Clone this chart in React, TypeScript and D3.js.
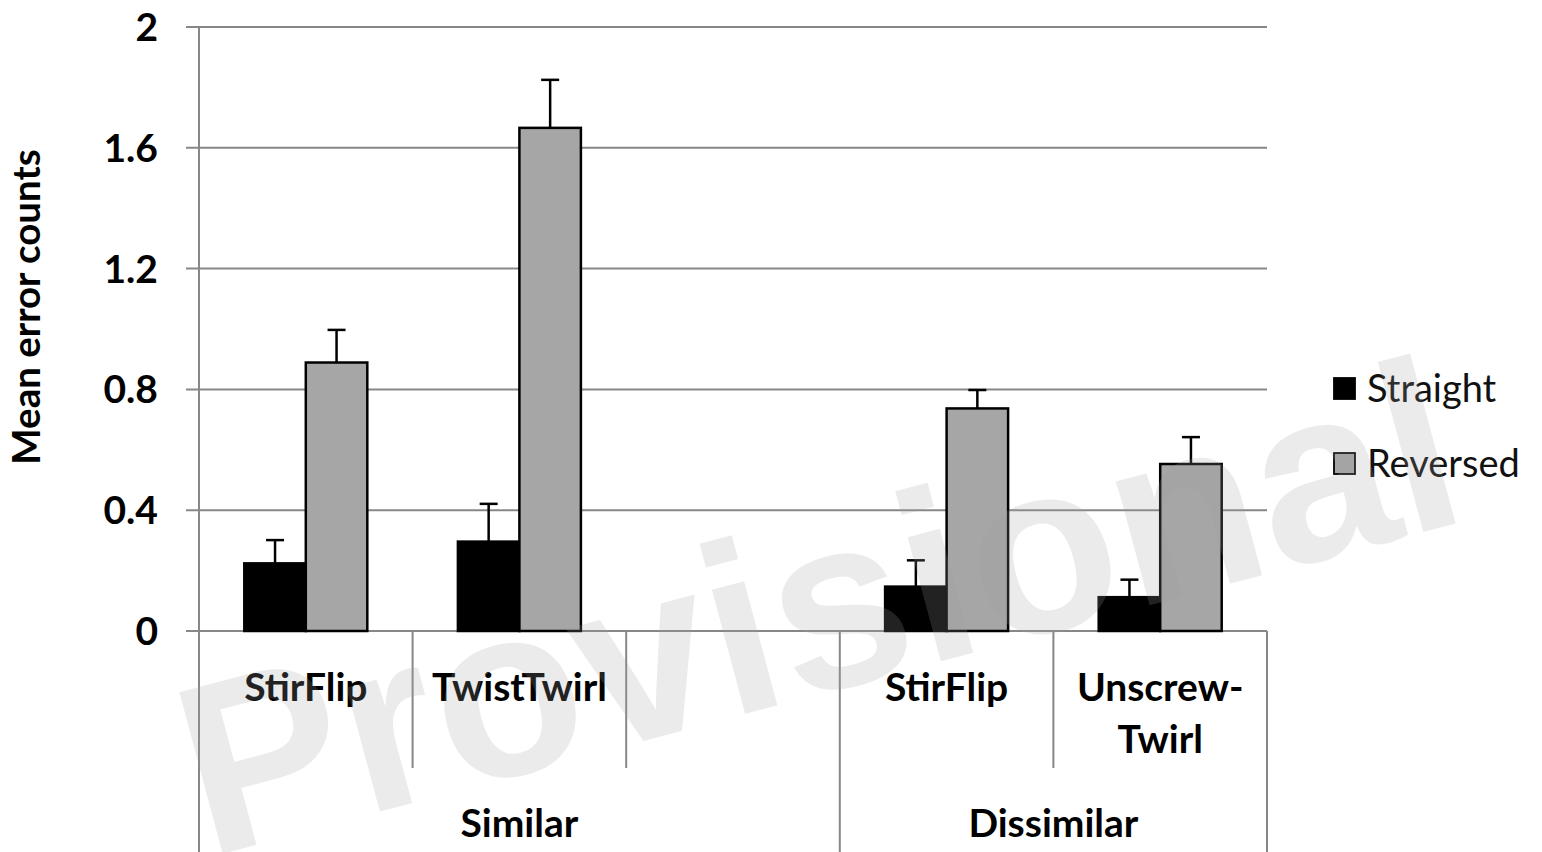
import React, { useEffect, useRef } from "react";
import * as d3 from "d3";

const categories = ["StirFlip", "TwistTwirl", "", "StirFlip", "Unscrew-Twirl"];
const groups = ["Similar", "Similar", "Similar", "Dissimilar", "Dissimilar"];
const seriesNames = ["Straight", "Reversed"];
const straight = [0.224, 0.296, null, 0.147, 0.112];
const reversed = [0.889, 1.666, null, 0.737, 0.553];
const straightErr = [0.077, 0.125, null, 0.087, 0.058];
const reversedErr = [0.108, 0.159, null, 0.061, 0.089];
const yTicks = [0, 0.4, 0.8, 1.2, 1.6, 2];
const yTickLabels = ["0", "0.4", "0.8", "1.2", "1.6", "2"];
const yTitle = "Mean error counts";
const watermark = "Provisional";

const W = 1542;
const H = 852;
const FONT = "Lato, 'Open Sans', sans-serif";

export default function App() {
  const ref = useRef<SVGSVGElement>(null);

  useEffect(() => {
    document.body.style.margin = "0";
    const svg = d3.select(ref.current);
    svg.selectAll("*").remove();

    const left = 199, right = 1267, top = 27, bottom = 631;
    const gridColor = "#878787";

    const y = d3.scaleLinear().domain([0, 2]).range([bottom, top]);
    const x0 = d3
      .scaleBand<number>()
      .domain(categories.map((_, i) => i))
      .range([left, right])
      .paddingInner(0)
      .paddingOuter(0);
    const x1 = d3
      .scaleBand<string>()
      .domain(seriesNames)
      .range([0, x0.bandwidth()])
      .paddingInner(0)
      .paddingOuter(0.7366);

    const g = svg.append("g");

    // gridlines
    g.selectAll("line.grid")
      .data(yTicks)
      .join("line")
      .attr("x1", left - 13)
      .attr("x2", right)
      .attr("y1", (d) => y(d))
      .attr("y2", (d) => y(d))
      .attr("stroke", gridColor)
      .attr("stroke-width", 2);

    // y axis line
    g.append("line")
      .attr("x1", left)
      .attr("x2", left)
      .attr("y1", top)
      .attr("y2", H)
      .attr("stroke", gridColor)
      .attr("stroke-width", 2);

    // category dividers
    const boundaries = d3.range(categories.length + 1);
    boundaries.forEach((i) => {
      if (i === 0) return;
      const xx = i < categories.length ? x0(i)! : right;
      const isGroupEdge =
        i === categories.length || groups[i] !== groups[i - 1];
      g.append("line")
        .attr("x1", xx)
        .attr("x2", xx)
        .attr("y1", bottom)
        .attr("y2", isGroupEdge ? H : 768)
        .attr("stroke", gridColor)
        .attr("stroke-width", 2);
    });

    // y tick labels
    g.selectAll("text.ytick")
      .data(yTicks)
      .join("text")
      .attr("x", 158)
      .attr("y", (d) => y(d))
      .attr("dy", "0.36em")
      .attr("text-anchor", "end")
      .attr("font-family", FONT)
      .attr("font-weight", "bold")
      .attr("font-size", 39)
      .attr("fill", "#000")
      .text((_, i) => yTickLabels[i]);

    // y title
    g.append("text")
      .attr("transform", `translate(40,307) rotate(-90)`)
      .attr("text-anchor", "middle")
      .attr("font-family", FONT)
      .attr("font-weight", "bold")
      .attr("font-size", 38.5)
      .text(yTitle);

    // bars
    const seriesVals = [straight, reversed];
    const seriesErrs = [straightErr, reversedErr];
    const fills = ["#000000", "#a6a6a6"];
    seriesNames.forEach((s, si) => {
      const vals = seriesVals[si];
      const errs = seriesErrs[si];
      vals.forEach((v, ci) => {
        if (v == null) return;
        const bx = x0(ci)! + x1(s)!;
        const bw = x1.bandwidth();
        g.append("rect")
          .attr("x", bx)
          .attr("y", y(v))
          .attr("width", bw)
          .attr("height", y(0) - y(v))
          .attr("fill", fills[si])
          .attr("stroke", "#000")
          .attr("stroke-width", 2.5);
        const e = errs[ci] as number;
        const cx = bx + bw / 2;
        g.append("line")
          .attr("x1", cx)
          .attr("x2", cx)
          .attr("y1", y(v))
          .attr("y2", y(v + e))
          .attr("stroke", "#000")
          .attr("stroke-width", 2.5);
        g.append("line")
          .attr("x1", cx - 9)
          .attr("x2", cx + 9)
          .attr("y1", y(v + e))
          .attr("y2", y(v + e))
          .attr("stroke", "#000")
          .attr("stroke-width", 2.5);
      });
    });

    // category labels
    categories.forEach((c, i) => {
      if (!c) return;
      const cx = x0(i)! + x0.bandwidth() / 2;
      const parts = c.includes("-") ? [c.split("-")[0] + "-", c.split("-")[1]] : [c];
      parts.forEach((p, pi) => {
        g.append("text")
          .attr("x", cx)
          .attr("y", 701 + pi * 52)
          .attr("text-anchor", "middle")
          .attr("font-family", FONT)
          .attr("font-weight", "bold")
          .attr("font-size", 39)
          .text(p);
      });
    });

    // group labels
    const groupNames = Array.from(new Set(groups));
    groupNames.forEach((gn) => {
      const idx = groups.map((gg, i) => (gg === gn ? i : -1)).filter((i) => i >= 0);
      const x1g = x0(idx[0])!;
      const x2g = x0(idx[idx.length - 1])! + x0.bandwidth();
      g.append("text")
        .attr("x", (x1g + x2g) / 2)
        .attr("y", 837)
        .attr("text-anchor", "middle")
        .attr("font-family", FONT)
        .attr("font-weight", "bold")
        .attr("font-size", 39)
        .text(gn);
    });

    // legend
    seriesNames.forEach((s, si) => {
      const ly = 389 + si * 75;
      g.append("rect")
        .attr("x", 1334)
        .attr("y", ly - 11)
        .attr("width", 21)
        .attr("height", 21)
        .attr("fill", fills[si])
        .attr("stroke", "#000")
        .attr("stroke-width", 1.8);
      g.append("text")
        .attr("x", 1367)
        .attr("y", ly + 13)
        .attr("font-family", FONT)
        .attr("font-size", 38)
        .attr("fill", "#111")
        .text(s);
    });

    // watermark
    svg
      .append("text")
      .attr("transform", "translate(207,858) rotate(-15)")
      .attr("font-family", "'Liberation Sans', Arial, sans-serif")
      .attr("font-weight", "bold")
      .attr("font-size", 243)
      .attr("fill", "rgb(162,162,162)")
      .attr("fill-opacity", 0.21)
      .text(watermark);
  }, []);

  return (
    <svg
      ref={ref}
      width={W}
      height={H}
      style={{ position: "absolute", left: 0, top: 0, display: "block", background: "#fff" }}
    />
  );
}
